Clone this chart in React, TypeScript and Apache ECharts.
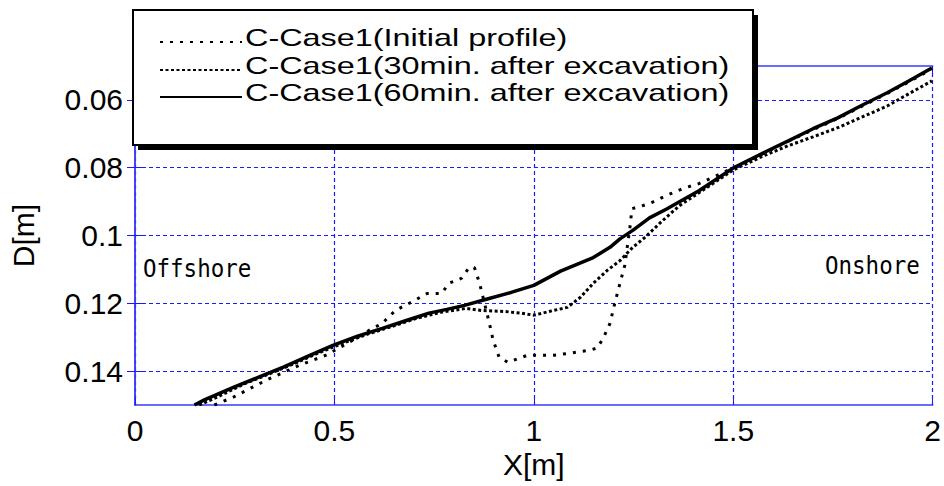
import React, { useEffect, useRef } from "react";
import * as echarts from "echarts";

const X_TICKS = [0, 0.5, 1, 1.5, 2];
const Y_TICKS = [0.06, 0.08, 0.1, 0.12, 0.14];
const SERIES_NAMES = [
  "C-Case1(Initial profile)",
  "C-Case1(30min. after excavation)",
  "C-Case1(60min. after excavation)",
];
const SIDE_LABELS = ["Offshore", "Onshore"];

const INITIAL_X = [0.199, 0.248, 0.330, 0.414, 0.479, 0.546, 0.588, 0.620, 0.653, 0.702, 0.732, 0.769, 0.787, 0.819, 0.836, 0.851, 0.864, 0.888, 0.898, 0.913, 0.935, 0.985, 1.050, 1.092, 1.141, 1.159, 1.174, 1.191, 1.203, 1.216, 1.228, 1.241, 1.246, 1.290, 1.333, 1.372, 1.414, 1.457, 1.501, 1.576, 1.638, 1.700, 1.762, 1.824, 1.886, 1.940, 1.998];
const INITIAL_D = [0.1500, 0.1476, 0.1426, 0.1382, 0.1353, 0.1309, 0.1279, 0.1259, 0.1221, 0.1191, 0.1171, 0.1171, 0.1141, 0.1126, 0.1097, 0.1094, 0.1141, 0.1256, 0.1309, 0.1359, 0.1374, 0.1353, 0.1353, 0.1347, 0.1338, 0.1332, 0.1303, 0.1259, 0.1200, 0.1141, 0.1088, 0.0976, 0.0921, 0.0906, 0.0882, 0.0862, 0.0847, 0.0824, 0.0800, 0.0758, 0.0722, 0.0688, 0.0655, 0.0618, 0.0581, 0.0547, 0.0509];

const MIN30_X = [0.161, 0.211, 0.273, 0.335, 0.397, 0.459, 0.521, 0.583, 0.645, 0.707, 0.769, 0.831, 0.868, 0.926, 0.968, 1.000, 1.050, 1.084, 1.117, 1.149, 1.184, 1.216, 1.248, 1.278, 1.323, 1.365, 1.414, 1.501, 1.576, 1.638, 1.700, 1.762, 1.824, 1.886, 1.940, 1.998];
const MIN30_D = [0.1500, 0.1474, 0.1438, 0.1409, 0.1379, 0.1347, 0.1318, 0.1291, 0.1268, 0.1244, 0.1226, 0.1215, 0.1221, 0.1224, 0.1229, 0.1235, 0.1221, 0.1212, 0.1182, 0.1141, 0.1103, 0.1074, 0.1035, 0.1006, 0.0956, 0.0912, 0.0874, 0.0806, 0.0765, 0.0735, 0.0709, 0.0682, 0.0650, 0.0618, 0.0582, 0.0544];

const MIN60_X = [0.149, 0.174, 0.248, 0.310, 0.372, 0.434, 0.496, 0.558, 0.620, 0.682, 0.737, 0.782, 0.826, 0.881, 0.943, 1.000, 1.067, 1.149, 1.191, 1.216, 1.248, 1.290, 1.333, 1.414, 1.501, 1.576, 1.638, 1.700, 1.762, 1.824, 1.886, 1.940, 1.998];
const MIN60_D = [0.1500, 0.1485, 0.1447, 0.1418, 0.1388, 0.1356, 0.1324, 0.1297, 0.1274, 0.1250, 0.1229, 0.1218, 0.1206, 0.1188, 0.1168, 0.1147, 0.1105, 0.1065, 0.1035, 0.1010, 0.0985, 0.0948, 0.0922, 0.0868, 0.0800, 0.0756, 0.0721, 0.0685, 0.0653, 0.0615, 0.0579, 0.0544, 0.0506];

const zip = (xs: number[], ys: number[]) => xs.map((x, i) => [x, ys[i]]);

const BLUE = "#1a1aff";
const FRAME = "#3a3aff";
const FONT = "'Liberation Sans', Arial, sans-serif";

export default function App() {
  const ref = useRef<HTMLDivElement>(null);

  useEffect(() => {
    if (!ref.current) return;
    const chart = echarts.init(ref.current, null, { renderer: "svg" });

    const dashes = [[3, 7], [3, 2.5], null];
    const legendRows = [42, 70, 97];

    const legendGraphics: any[] = [
      {
        type: "rect",
        z: 100,
        shape: { x: 138, y: 15, width: 620, height: 135 },
        style: { fill: "#000" },
      },
      {
        type: "rect",
        z: 101,
        shape: { x: 133, y: 10, width: 620, height: 135 },
        style: { fill: "#fff", stroke: "#000", lineWidth: 2 },
      },
    ];
    SERIES_NAMES.forEach((name, i) => {
      legendGraphics.push({
        type: "line",
        z: 102,
        shape: { x1: 160, y1: legendRows[i], x2: 242, y2: legendRows[i] },
        style: {
          stroke: "#000",
          lineWidth: 2,
          lineDash: dashes[i] || undefined,
        },
      });
      legendGraphics.push({
        type: "text",
        z: 102,
        x: 245,
        y: legendRows[i] - 4,
        scaleX: 1.35,
        style: {
          text: name,
          fill: "#000",
          font: `24px ${FONT}`,
          textAlign: "left",
          textVerticalAlign: "middle",
        },
      });
    });

    const sideGraphics = [
      {
        type: "text",
        z: 50,
        x: 143,
        y: 269,
        scaleX: 0.9,
        style: {
          text: SIDE_LABELS[0],
          fill: "#000",
          font: "25px 'DejaVu Sans Mono', monospace",
          textAlign: "left",
          textVerticalAlign: "middle",
        },
      },
      {
        type: "text",
        z: 50,
        x: 825,
        y: 266,
        scaleX: 0.9,
        style: {
          text: SIDE_LABELS[1],
          fill: "#000",
          font: "25px 'DejaVu Sans Mono', monospace",
          textAlign: "left",
          textVerticalAlign: "middle",
        },
      },
    ];

    const gridLine = { show: true, lineStyle: { color: BLUE, type: [4, 3], width: 1.2 } };

    chart.setOption({
      animation: false,
      backgroundColor: "#fff",
      grid: { left: 130, right: 8, top: 66, bottom: 81, containLabel: false },
      xAxis: [
        {
          type: "value",
          min: 0,
          max: 2,
          interval: 0.5,
          position: "bottom",
          name: "X[m]",
          nameLocation: "middle",
          nameGap: 42,
          nameTextStyle: { fontSize: 30, fontFamily: FONT, color: "#000" },
          axisLine: { show: true, lineStyle: { color: FRAME, width: 1.5 } },
          axisTick: { show: true, inside: true, length: 8, lineStyle: { color: BLUE } },
          axisLabel: {
            fontSize: 30,
            fontFamily: FONT,
            color: "#000",
            margin: 10,
            customValues: X_TICKS,
            formatter: (v: number) => String(v),
          },
          splitLine: gridLine,
        },
        {
          type: "value",
          min: 0,
          max: 2,
          interval: 0.5,
          position: "top",
          axisLine: { show: true, lineStyle: { color: FRAME, width: 1.5 } },
          axisTick: { show: true, inside: true, length: 8, lineStyle: { color: BLUE } },
          axisLabel: { show: false },
          splitLine: { show: false },
        },
      ],
      yAxis: [
        {
          type: "value",
          min: 0.05,
          max: 0.15,
          inverse: true,
          position: "left",
          name: "D[m]",
          nameLocation: "middle",
          nameGap: 97,
          nameTextStyle: { fontSize: 30, fontFamily: FONT, color: "#000" },
          axisLine: { show: true, lineStyle: { color: FRAME, width: 1.5 } },
          axisTick: {
            show: true,
            inside: true,
            length: 8,
            customValues: Y_TICKS,
            lineStyle: { color: BLUE },
          },
          axisLabel: {
            fontSize: 30,
            fontFamily: FONT,
            color: "#000",
            margin: 12,
            padding: [0, 0, 12, 0],
            customValues: Y_TICKS,
            formatter: (v: number) => String(Number(v.toFixed(2))),
          },
          splitLine: gridLine,
        },
        {
          type: "value",
          min: 0.05,
          max: 0.15,
          inverse: true,
          position: "right",
          axisLine: { show: true, lineStyle: { color: FRAME, width: 1.5 } },
          axisTick: {
            show: true,
            inside: true,
            length: 8,
            customValues: Y_TICKS,
            lineStyle: { color: BLUE },
          },
          axisLabel: { show: false, customValues: Y_TICKS },
          splitLine: { show: false },
        },
      ],
      series: [
        {
          name: SERIES_NAMES[0],
          type: "line",
          data: zip(INITIAL_X, INITIAL_D),
          showSymbol: false,
          lineStyle: { color: "#000", width: 3, type: [3, 7] },
        },
        {
          name: SERIES_NAMES[1],
          type: "line",
          data: zip(MIN30_X, MIN30_D),
          showSymbol: false,
          lineStyle: { color: "#000", width: 3, type: [3, 2.5] },
        },
        {
          name: SERIES_NAMES[2],
          type: "line",
          data: zip(MIN60_X, MIN60_D),
          showSymbol: false,
          lineStyle: { color: "#000", width: 3.5, type: "solid" },
        },
      ],
      graphic: [...sideGraphics, ...legendGraphics],
    });

    return () => chart.dispose();
  }, []);

  return <div ref={ref} style={{ width: 944, height: 486, position: "absolute", left: 0, top: 0 }} />;
}
